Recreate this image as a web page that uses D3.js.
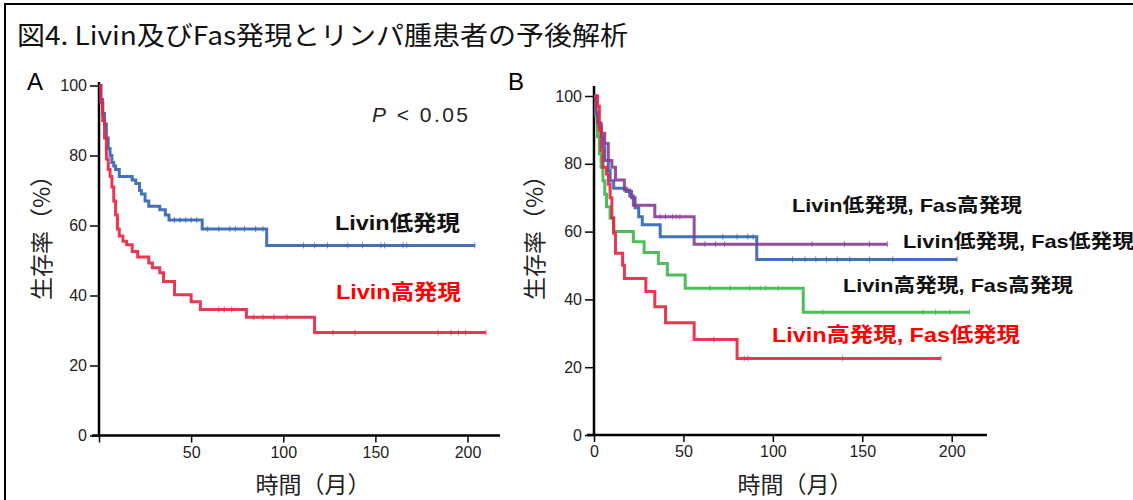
<!DOCTYPE html>
<html>
<head>
<meta charset="utf-8">
<script src="https://cdn.jsdelivr.net/npm/d3@7/dist/d3.min.js"></script>
<style>
  body { margin: 0; background: #fff; }
  svg { display: block; }
</style>
</head>
<body>
<svg id="chart" width="1133" height="500"></svg>
<script>
// ---- Panel A: Livin low / high (time in months, survival in %) ----
const aLowTimes = [0, 1, 2, 3, 4, 5, 6, 7, 8, 9, 11, 18, 20, 22, 23, 25, 27, 33, 36, 38, 56, 91];
const aLowSurv = [100, 96, 92, 89, 85, 82, 80, 78, 77, 76, 74, 73, 72, 70, 69, 67, 65.5, 64.5, 63, 61.6, 59, 54.3];
const aLowCensor = [41, 44, 47, 50, 53, 59, 65, 71, 74, 79, 85, 89, 111, 117, 124, 135, 143, 153, 155, 165, 167, 204];

const aHighTimes = [0, 1, 2, 3, 4, 5, 6, 7, 8, 9, 10, 11, 13, 15, 18, 21, 27, 29, 33, 35, 41, 50, 55, 80, 117];
const aHighSurv = [100, 95, 90, 85, 79, 76, 74, 71, 67, 63, 59, 57, 55.5, 54.5, 52.6, 51, 49.3, 47.9, 46.5, 44, 40.2, 38.2, 36, 33.8, 29.4];
const aHighCensor = [65, 68, 72, 84, 89, 95, 102, 127, 139, 184, 191, 195, 199, 210];

// ---- Panel B: Livin x Fas groups ----
const bLowLowTimes = [0, 1, 2, 4, 5, 6, 8, 9, 11, 18, 21, 23, 25, 27, 37, 91];
const bLowLowSurv = [100, 95, 91, 88, 85, 81, 78, 75, 72.8, 71.8, 70, 67, 64.4, 62, 58.5, 51.8];
const bLowLowCensor = [72, 80, 86, 89, 111, 118, 124, 130, 136, 143, 154, 167, 203];

const bLowHighTimes = [0, 1, 2, 4, 6, 8, 10, 12, 17, 20, 22, 34, 56];
const bLowHighSurv = [100, 95, 92, 89, 86, 81, 79, 75.2, 72.3, 70.5, 67.8, 64.4, 56.3];
const bLowHighCensor = [37, 40, 44, 46, 48, 62, 68, 73, 122, 140, 154, 164];

const bHighHighTimes = [0, 1, 2, 3, 4, 5, 6, 7, 9, 11, 22, 28, 36, 41, 51, 117];
const bHighHighSurv = [100, 94, 88, 83, 79, 75, 71, 67.3, 64, 60, 57, 53.8, 50.6, 47.2, 43.3, 36.2];
const bHighHighCensor = [65, 76, 87, 93, 96, 103, 128, 184, 191, 199, 210];

const bHighLowTimes = [0, 2, 3, 4, 5, 7, 8, 9, 10, 11, 12, 16, 17, 29, 34, 40, 56, 80];
const bHighLowSurv = [100, 97, 90, 84, 79, 77, 74, 70, 64, 59.5, 53.6, 50.1, 46.2, 42.3, 37.8, 33.1, 28.2, 22.6];
const bHighLowCensor = [67, 84, 86, 139, 194];

const yTicks = [0, 20, 40, 60, 80, 100];
const xTicks = [0, 50, 100, 150, 200];

const svg = d3.select('#chart');
const latin = '"Liberation Sans", Arial, "Noto Sans CJK JP", sans-serif';
const cjk = '"Noto Sans CJK JP", "Noto Sans", sans-serif';

// frame
svg.append('path')
  .attr('d', 'M5,500 V4 H1133')
  .attr('fill', 'none')
  .attr('stroke', '#000')
  .attr('stroke-width', 2);

svg.append('text')
  .attr('x', 17)
  .attr('y', 45)
  .attr('font-family', cjk)
  .attr('font-size', 26)
  .attr('fill', '#111')
  .attr('textLength', 611)
  .attr('lengthAdjust', 'spacingAndGlyphs')
  .text('図4. Livin及びFas発現とリンパ腫患者の予後解析');

function surv(times, values, t) {
  let i = d3.bisectRight(times, t) - 1;
  return values[Math.max(i, 0)];
}

function drawPanel(opt) {
  const g = svg.append('g');
  const x = d3.scaleLinear().domain([0, 200]).range(opt.xRange);
  const y = d3.scaleLinear().domain([0, 100]).range(opt.yRange);

  // y axis
  const yAxis = g.append('g')
    .attr('transform', `translate(${x(0)},0)`)
    .call(d3.axisLeft(y).tickValues(yTicks).tickSize(9).tickSizeOuter(0).tickPadding(3));
  yAxis.select('.domain').remove();
  yAxis.selectAll('.tick line').attr('stroke-width', 1.5);
  yAxis.selectAll('.tick text')
    .attr('font-family', latin)
    .attr('font-size', 16)
    .attr('fill', '#222');

  // x axis
  const xAxis = g.append('g')
    .attr('transform', `translate(0,${y(0)})`)
    .call(d3.axisBottom(x).tickValues(xTicks).tickSize(7).tickSizeOuter(0).tickPadding(4)
      .tickFormat(d => (d === 0 && !opt.showZero) ? '' : d));
  xAxis.select('.domain').remove();
  xAxis.selectAll('.tick line').attr('stroke-width', 1.5);
  xAxis.selectAll('.tick text')
    .attr('font-family', latin)
    .attr('font-size', 16)
    .attr('fill', '#222');

  g.append('line')
    .attr('x1', x(0)).attr('x2', x(0))
    .attr('y1', opt.yTop).attr('y2', y(0) + 1)
    .attr('stroke', '#000').attr('stroke-width', 2.5);
  g.append('line')
    .attr('x1', x(0) - 7).attr('x2', opt.xEnd)
    .attr('y1', y(0)).attr('y2', y(0))
    .attr('stroke', '#000').attr('stroke-width', 2.5);

  const line = d3.line()
    .x(d => x(d[0]))
    .y(d => y(d[1]))
    .curve(d3.curveStepAfter);

  opt.series.forEach(s => {
    const end = s.censor[s.censor.length - 1];
    const pts = s.times.map((t, i) => [t, s.surv[i]]);
    pts.push([end, s.surv[s.surv.length - 1]]);
    g.append('path')
      .attr('d', line(pts))
      .attr('fill', 'none')
      .attr('stroke', s.color)
      .attr('stroke-width', 3)
      .attr('stroke-opacity', 0.9);
    g.selectAll(null)
      .data(s.censor)
      .join('line')
      .attr('x1', d => x(d)).attr('x2', d => x(d))
      .attr('y1', d => y(surv(s.times, s.surv, d)) - 3)
      .attr('y2', d => y(surv(s.times, s.surv, d)) + 3)
      .attr('stroke', s.color)
      .attr('stroke-opacity', 0.7)
      .attr('stroke-width', 1);
  });

  // panel letter
  g.append('text')
    .attr('x', opt.letterX).attr('y', 90)
    .attr('font-family', latin).attr('font-size', 24)
    .text(opt.letter);

  // axis titles
  g.append('text')
    .attr('transform', `translate(${opt.yTitleX},232) rotate(-90)`)
    .attr('text-anchor', 'middle')
    .attr('dominant-baseline', 'central')
    .attr('font-family', cjk).attr('font-size', 23)
    .attr('fill', '#222')
    .text('生存率（%）');
  g.append('text')
    .attr('x', opt.xTitleX).attr('y', 493)
    .attr('text-anchor', 'middle')
    .attr('font-family', cjk).attr('font-size', 23)
    .attr('fill', '#222')
    .text('時間（月）');

  opt.labels.forEach(l => {
    g.append('text')
      .attr('x', l.x).attr('y', l.y)
      .attr('font-family', latin)
      .attr('font-weight', 'bold')
      .attr('font-size', l.size)
      .attr('fill', l.color)
      .attr('textLength', l.w)
      .attr('lengthAdjust', 'spacingAndGlyphs')
      .text(l.text);
  });
}

drawPanel({
  letter: 'A', letterX: 27,
  xRange: [99, 467.5], yRange: [435.5, 85.5],
  yTop: 82, xEnd: 500, showZero: false,
  yTitleX: 40, xTitleX: 313,
  series: [
    { times: aLowTimes, surv: aLowSurv, censor: aLowCensor, color: '#2f62b4' },
    { times: aHighTimes, surv: aHighSurv, censor: aHighCensor, color: '#e6223f' }
  ],
  labels: [
    { text: 'Livin低発現', x: 335, y: 230, size: 21, w: 125, color: '#111' },
    { text: 'Livin高発現', x: 336, y: 299, size: 21, w: 125, color: '#ff0000' }
  ]
});

drawPanel({
  letter: 'B', letterX: 508,
  xRange: [594, 951.7], yRange: [435, 96],
  yTop: 86, xEnd: 987, showZero: true,
  yTitleX: 533, xTitleX: 795,
  series: [
    { times: bLowLowTimes, surv: bLowLowSurv, censor: bLowLowCensor, color: '#2f62b4' },
    { times: bHighHighTimes, surv: bHighHighSurv, censor: bHighHighCensor, color: '#3db54a' },
    { times: bLowHighTimes, surv: bLowHighSurv, censor: bLowHighCensor, color: '#8a3b96' },
    { times: bHighLowTimes, surv: bHighLowSurv, censor: bHighLowCensor, color: '#e6223f' }
  ],
  labels: [
    { text: 'Livin低発現, Fas高発現', x: 792, y: 212, size: 19, w: 230, color: '#111' },
    { text: 'Livin低発現, Fas低発現', x: 903, y: 248, size: 19, w: 231, color: '#111' },
    { text: 'Livin高発現, Fas高発現', x: 843, y: 292, size: 19, w: 230, color: '#111' },
    { text: 'Livin高発現, Fas低発現', x: 772, y: 342, size: 20.5, w: 248, color: '#ff0000' }
  ]
});

// p-value
const p = svg.append('text')
  .attr('x', 372).attr('y', 122)
  .attr('font-family', latin).attr('font-size', 21)
  .attr('fill', '#222')
  .attr('textLength', 96);
p.append('tspan').attr('font-style', 'italic').text('P');
p.append('tspan').text(' < 0.05');
</script>
</body>
</html>
